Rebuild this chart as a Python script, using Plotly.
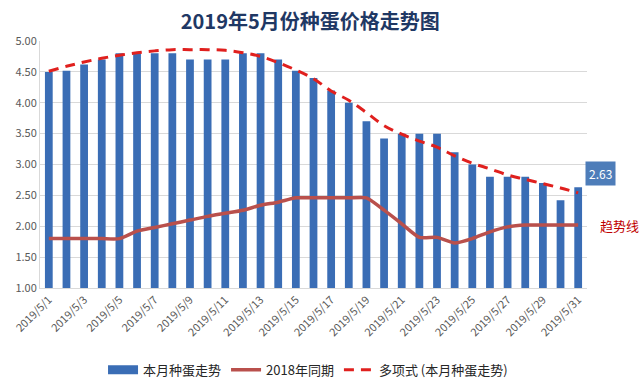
import plotly.graph_objects as go

dates = [f"2019/5/{d}" for d in range(1, 32)]
prices_2019 = [4.50, 4.52, 4.62, 4.70, 4.80, 4.80, 4.80, 4.80, 4.70, 4.70,
               4.70, 4.80, 4.80, 4.70, 4.52, 4.40, 4.20, 4.00, 3.70, 3.42,
               3.50, 3.50, 3.50, 3.20, 3.00, 2.80, 2.80, 2.80, 2.70, 2.42, 2.63]
prices_2018 = [1.80, 1.80, 1.80, 1.80, 1.80, 1.92, 1.98, 2.04, 2.10, 2.16,
               2.21, 2.26, 2.34, 2.39, 2.46, 2.46, 2.46, 2.46, 2.46, 2.26,
               2.04, 1.82, 1.82, 1.73, 1.80, 1.91, 1.99, 2.02, 2.02, 2.02, 2.02]
trend = [4.51, 4.59, 4.66, 4.72, 4.77, 4.81, 4.84, 4.86, 4.86, 4.86,
         4.85, 4.81, 4.75, 4.65, 4.53, 4.39, 4.19, 4.04, 3.84, 3.63,
         3.49, 3.38, 3.28, 3.14, 3.02, 2.93, 2.83, 2.76, 2.69, 2.62, 2.54]
tick_labels = dates[::2]
y_ticks = [1.0, 1.5, 2.0, 2.5, 3.0, 3.5, 4.0, 4.5, 5.0]

FONT = "Noto Sans CJK SC, Open Sans, sans-serif"
BAR_COLOR = "#3A6DB5"

fig = go.Figure()
# legend-only entry to show the wide rectangular swatch of the bar series
fig.add_trace(go.Scatter(x=[None], y=[None], mode="lines", name="本月种蛋走势",
                         line=dict(color=BAR_COLOR, width=9), hoverinfo="skip"))
fig.add_trace(go.Bar(x=dates, y=prices_2019, name="本月种蛋走势", showlegend=False,
                     marker=dict(color=BAR_COLOR, line=dict(width=0))))
fig.add_trace(go.Scatter(x=dates, y=prices_2018, name="2018年同期", mode="lines",
                         line=dict(color="#B9504C", width=3.5, shape="spline", smoothing=0.6)))
fig.add_trace(go.Scatter(x=dates, y=trend, name="多项式 (本月种蛋走势)", mode="lines",
                         line=dict(color="#E0201E", width=3, dash="10px,7px", shape="spline")))

fig.add_annotation(x=dates[-1], y=2.86, xref="x", yref="y", text="2.63",
                   showarrow=False, xshift=22, bgcolor="#4E7DB9",
                   font=dict(color="white", size=12, family=FONT), borderpad=3)
fig.add_annotation(x=1.0, y=2.02, xref="paper", yref="y", text="趋势线",
                   showarrow=False, xanchor="left", xshift=11,
                   font=dict(color="#C00000", size=13, family=FONT))

fig.update_layout(
    width=641, height=392,
    margin=dict(l=40, r=54, t=41, b=104, autoexpand=False),
    paper_bgcolor="white", plot_bgcolor="white",
    title=dict(text="<b>2019年5月份种蛋价格走势图</b>", x=0.484, xanchor="center",
               xref="container", y=0.944, yanchor="middle",
               font=dict(size=20, color="#1F3864", family=FONT)),
    bargap=0.56,
    showlegend=True,
    legend=dict(orientation="h", x=0.49, xanchor="center", y=-0.27, yanchor="top",
                font=dict(size=13, color="#262626", family=FONT), traceorder="normal",
                itemwidth=30),
    font=dict(family=FONT),
)
fig.update_xaxes(type="category", range=[-0.5, len(dates) - 0.5],
                 tickmode="array", tickvals=tick_labels, ticktext=tick_labels,
                 tickangle=-45, tickfont=dict(size=11, color="#595959", family=FONT),
                 showline=True, linecolor="#D9D9D9", linewidth=1, showgrid=False, ticks="",
                 automargin=False)
fig.update_yaxes(range=[1, 5], tickmode="array", tickvals=y_ticks, tickformat=".2f",
                 tickfont=dict(size=11, color="#595959", family=FONT),
                 showgrid=True, gridcolor="#D9D9D9", gridwidth=1,
                 showline=True, linecolor="#D9D9D9", zeroline=False, ticks="",
                 automargin=False)

fig.write_html("out.html", config={"displayModeBar": False},
               post_script="document.body.style.margin='0';document.body.style.overflow='hidden';")
